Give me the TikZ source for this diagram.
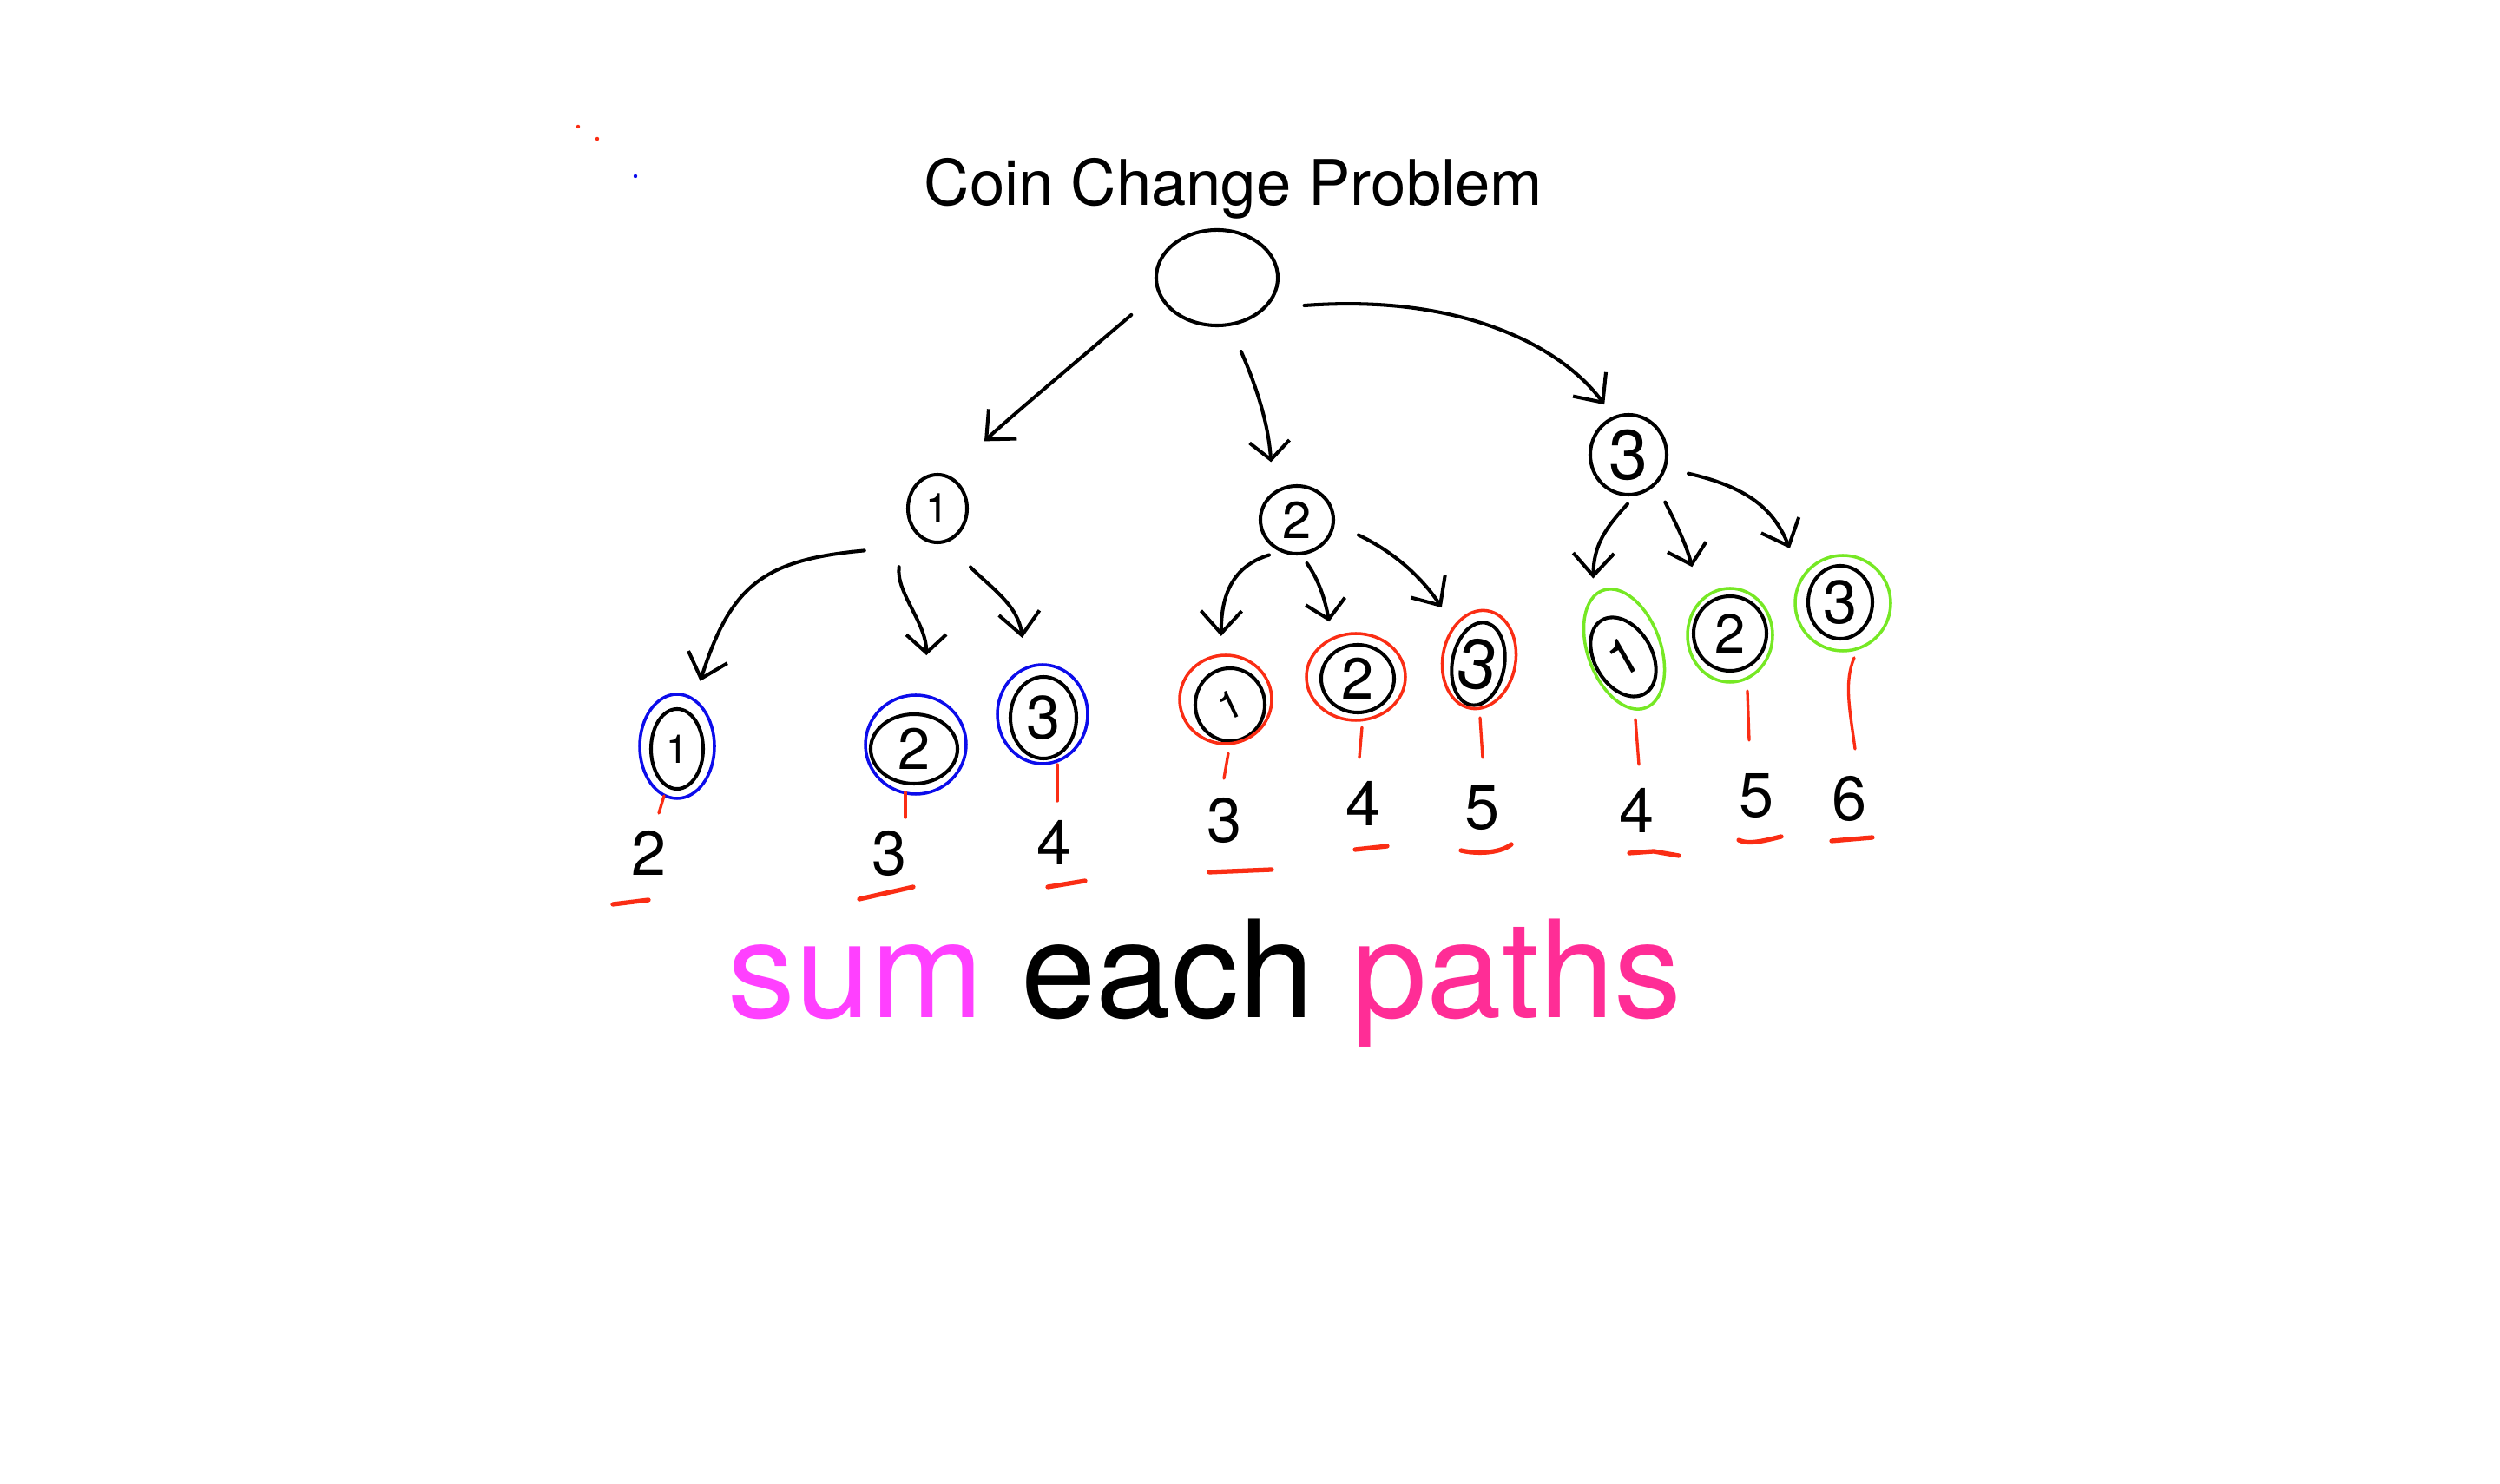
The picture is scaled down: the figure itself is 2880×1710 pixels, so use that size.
\documentclass[tikz,border=0pt]{standalone}
\usepackage{fontspec}
\setmainfont{TeX Gyre Heros}
\usetikzlibrary{shapes.geometric,arrows.meta}
\definecolor{inkblue}{RGB}{12,12,235}
\definecolor{inkred}{RGB}{250,45,20}
\definecolor{inkgreen}{RGB}{118,232,36}
\definecolor{summag}{RGB}{255,64,255}
\definecolor{pathpink}{RGB}{255,45,150}
\newcommand\hd[2]{\makebox[0pt]{\smash{\raisebox{-.5\height}{\fontsize{#1pt}{#1pt}\selectfont #2}}}}
\begin{document}
\begin{tikzpicture}[x=0.01cm,y=-0.01cm,
  coinnode/.style={ellipse,draw,line width=1.15pt,inner sep=0pt},
  arr/.style={line width=1.15pt,line cap=round,line join=round,-{Straight Barb[length=2.6mm,width=4.7mm]}},
  arru/.style={line width=1.15pt,line cap=round,line join=round,-{Straight Barb[length=2.1mm,width=4.6mm]}},
  redtick/.style={inkred,line width=0.95pt,line cap=round},
  underl/.style={inkred,line width=1.5pt,line cap=round},
  ringB/.style={inkblue,line width=1pt},
  ringR/.style={inkred,line width=1pt},
  ringG/.style={inkgreen,line width=1pt},
  sumlabel/.style={inner sep=0pt,font=\fontsize{20.5pt}{24pt}\selectfont}]
\fill[white] (0,0) rectangle (2880,1710);
\useasboundingbox (0,0) rectangle (2880,1710);

% stray dots
\fill[inkred] (666,146) circle [radius=2.2];
\fill[inkred] (688,160) circle [radius=2.2];
\fill[inkblue] (732,203) circle [radius=2.2];

% title
\node[anchor=base west,inner sep=0pt,font=\fontsize{20.6pt}{24pt}\selectfont] (title) at (1064,237) {Coin Change Problem};

% tree nodes
\node[coinnode,minimum width=14mm,minimum height=11mm] (root) at (1402,320) {};
\node[coinnode,minimum width=6.8mm,minimum height=7.8mm] (A) at (1080,586) {\hd{13.5}{1}};
\node[coinnode,minimum width=8.4mm,minimum height=7.8mm] (B) at (1494,599) {\hd{17}{2}};
\node[coinnode,minimum width=8.8mm,minimum height=9.2mm] (C) at (1876,524) {\hd{23}{3}};
\node[coinnode,minimum width=6mm,minimum height=9.2mm] (A1) at (780,863) {\hd{13}{1}};
\node[coinnode,minimum width=10mm,minimum height=8mm] (A2) at (1053,863) {\hd{19}{2}};
\node[coinnode,minimum width=7.6mm,minimum height=9.4mm] (A3) at (1202,827) {\hd{20}{3}};
\node[coinnode,minimum width=8mm,minimum height=8.4mm] (B1) at (1417,812) {\hd{13}{\rotatebox{25}{1}}};
\node[coinnode,minimum width=8.4mm,minimum height=7.8mm] (B2) at (1564,782) {\hd{19}{2}};
\node[coinnode,minimum width=6mm,minimum height=9.6mm,rotate=-10] (B3) at (1703,765) {\hd{23}{3}};
\node[coinnode,minimum width=6.6mm,minimum height=9.8mm,rotate=30] (C1) at (1870,757) {\hd{17}{1}};
\node[coinnode,minimum width=8.4mm,minimum height=8.6mm] (C2) at (1993,730) {\hd{18}{2}};
\node[coinnode,minimum width=7.4mm,minimum height=8.4mm] (C3) at (2120,694) {\hd{20}{3}};

% coloured rings
\draw[ringB] (780,860) ellipse [x radius=43,y radius=60];
\draw[ringB] (1055,858) ellipse [x radius=58,y radius=57];
\draw[ringB] (1201,823) ellipse [x radius=52,y radius=57];
\draw[ringR] (1412,806) ellipse [x radius=53,y radius=51];
\draw[ringR] (1562,780) ellipse [x radius=57,y radius=50];
\draw[ringR,rotate around={-10:(1704,760)}] (1704,760) ellipse [x radius=42,y radius=57];
\draw[ringG,rotate around={20:(1871,748)}] (1871,748) ellipse [x radius=42,y radius=72];
\draw[ringG] (1993,732) ellipse [x radius=49,y radius=54];
\draw[ringG] (2123,695) ellipse [x radius=55,y radius=55];

% arrows
\draw[arr,shorten <=3.95mm,shorten >=5.7mm] (root.194) .. controls (1274,388) and (1162,482) .. (A.72);
\draw[arru,shorten <=3.18mm,shorten >=3.43mm] (root.285) .. controls (1449,449) and (1461,489) .. (B.130);
\draw[arr,shorten <=4.41mm,shorten >=1.68mm] (root.328) .. controls (1690,338) and (1802,403) .. (C.112);

\draw[arr,shorten <=8.17mm,shorten >=3.77mm] (A.266) .. controls (881,645) and (842,673) .. (A1.70);
\draw[arru,shorten <=6.77mm,shorten >=6.76mm] (A.180) .. controls (1032,683) and (1067,717) .. (A2.70);
\draw[arr,shorten <=3.94mm,shorten >=4.88mm] (A.285) .. controls (1141,677) and (1173,697) .. (A3.113);

\draw[arr,shorten <=1.3mm,shorten >=3.64mm] (B.242) .. controls (1411,655) and (1407,700) .. (B1.104);
\draw[arru,shorten <=1.12mm,shorten >=3.35mm] (B.277) .. controls (1519,668) and (1526,689) .. (B2.129);
\draw[arr,shorten <=3.01mm,shorten >=3.87mm] (B.354) .. controls (1608,637) and (1640,668) .. (B3);

\draw[arr,shorten <=1.26mm,shorten >=5.72mm] (C.279) .. controls (1849,609) and (1836,628) .. (C1.107);
\draw[arru,shorten <=2.26mm,shorten >=4.68mm] (C.313) .. controls (1931,604) and (1942,626) .. (C2.135);
\draw[arr,shorten <=2.62mm,shorten >=5.34mm] (C.340) .. controls (2021,563) and (2045,592) .. (C3.161);

% sums
\node[sumlabel] (lA1) at (748,983) {2};
\node[sumlabel] (lA2) at (1025,983) {3};
\node[sumlabel] (lA3) at (1215,971) {4};
\node[sumlabel] (lB1) at (1411,945) {3};
\node[sumlabel] (lB2) at (1571,926) {4};
\node[sumlabel] (lB3) at (1708,931) {5};
\node[sumlabel] (lC1) at (1886,934) {4};
\node[sumlabel] (lC2) at (2024,917) {5};
\node[sumlabel] (lC3) at (2131,920) {6};

% red ticks from circles to sums
\draw[redtick] ([shift={(-15,54)}]A1.center) -- ([shift={(11,-46)}]lA1.center);
\draw[redtick] ([shift={(-10,50)}]A2.center) -- ([shift={(18,-41)}]lA2.center);
\draw[redtick] ([shift={(16,54)}]A3.center) -- ([shift={(3,-48)}]lA3.center);
\draw[redtick] ([shift={(-2,56)}]B1.center) -- ([shift={(-1,-48)}]lB1.center);
\draw[redtick] ([shift={(5,56)}]B2.center) -- ([shift={(-5,-53)}]lB2.center);
\draw[redtick] ([shift={(2,62)}]B3.center) -- ([shift={(0,-58)}]lB3.center);
\draw[redtick] ([shift={(14,72)}]C1.center) -- ([shift={(2,-53)}]lC1.center);
\draw[redtick] ([shift={(20,66)}]C2.center) -- ([shift={(-9,-64)}]lC2.center);
\draw[redtick] ([shift={(16,64)}]C3.center) .. controls +(-12,28) and +(-6,-45) .. ([shift={(6,-57)}]lC3.center);

% red underlines
\draw[underl] (706,1042) -- (747,1037);
\draw[underl] (990,1036) -- (1052,1022);
\draw[underl] (1207,1022) -- (1250,1015);
\draw[underl] (1393,1005) -- (1465,1002);
\draw[underl] (1561,979) -- (1598,975);
\draw[underl] (1683,980) .. controls (1705,985) and (1730,982) .. (1741,973);
\draw[underl] (1877,983) -- (1905,981) -- (1934,986);
\draw[underl] (2003,968) .. controls (2015,974) and (2035,968) .. (2052,964);
\draw[underl] (2110,969) -- (2157,965);

% caption
\node[anchor=base west,inner sep=0pt,font=\fontsize{44.3pt}{50pt}\selectfont] (caption) at (838,1173)
  {\textcolor{summag}{sum} each \textcolor{pathpink}{paths}};
\end{tikzpicture}
\end{document}
